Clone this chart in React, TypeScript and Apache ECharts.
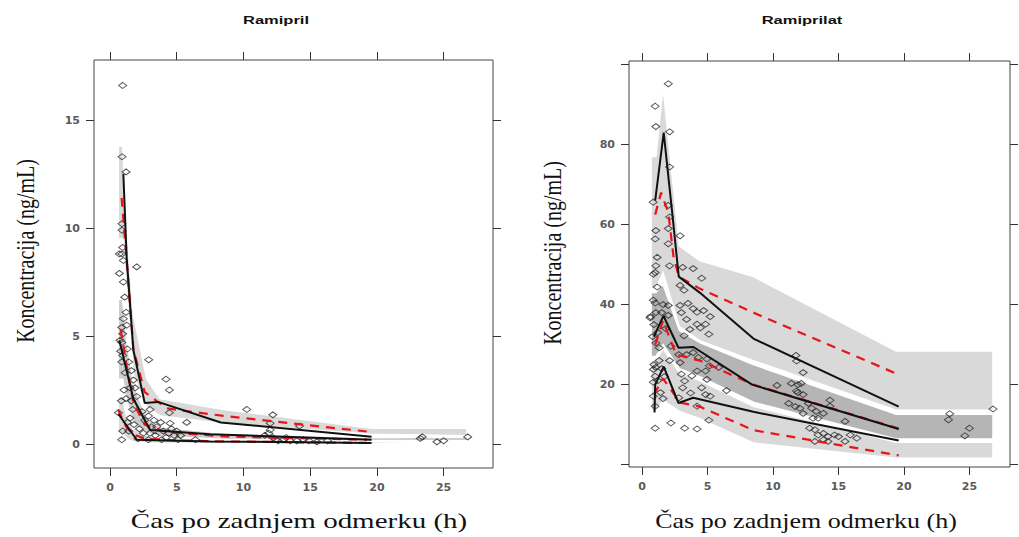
import React, { useEffect, useRef } from "react";
import * as echarts from "echarts";

// ---------- tick values ----------
const xTicks = [0, 5, 10, 15, 20, 25];
const ramiprilYTicks = [0, 5, 10, 15];
const ramiprilatYTicks = [0, 20, 40, 60, 80, 100];
const ramiprilatYLabels = [20, 40, 60, 80];

// ---------- Ramipril (left) ----------
const ramiprilObs: number[][] = [
  [0.95, 16.6], [0.9, 13.3], [1.2, 12.6], [0.9, 10.2], [0.9, 9.9], [0.7, 8.8], [0.9, 8.8], [0.95, 9.1],
  [1.0, 8.5], [2.0, 8.2], [0.7, 7.9], [1.0, 7.5], [1.2, 6.1], [0.88, 5.4], [0.95, 5.1], [0.75, 4.8],
  [0.88, 4.7], [0.95, 4.1], [0.88, 3.8], [1.13, 3.3], [2.9, 3.9], [4.2, 3.0], [4.45, 2.5], [1.75, 2.96],
  [1.88, 2.6], [2.0, 2.2], [1.2, 2.1], [0.63, 1.45], [3.0, 1.6], [2.88, 1.3], [4.45, 1.45], [5.75, 1.0],
  [10.25, 1.6], [12.2, 1.35], [12.0, 0.96], [14.2, 0.83], [0.95, 0.6], [0.88, 0.2], [2.1, 0.25], [2.88, 0.2],
  [3.0, 0.5], [3.1, 0.8], [3.87, 0.2], [4.4, 0.5], [4.5, 0.96], [5.0, 0.6], [5.1, 0.2], [6.4, 0.2],
  [11.6, 0.4], [12.0, 0.65], [12.6, 0.15], [13.0, 0.2], [13.5, 0.15], [14.0, 0.15], [14.5, 0.2], [14.9, 0.15],
  [15.5, 0.1], [16.3, 0.15], [23.25, 0.26], [23.4, 0.33], [24.5, 0.1], [25.0, 0.15], [26.8, 0.33],
  [1.5, 2.6], [1.6, 2.0], [1.7, 1.6], [1.5, 1.2], [1.8, 0.9], [2.2, 0.7], [2.5, 0.5], [2.6, 1.1],
  [3.3, 1.1], [3.5, 0.8], [3.4, 0.4], [3.8, 1.0], [4.0, 0.6], [4.2, 0.3], [4.6, 0.7], [4.8, 0.4],
  [5.3, 0.4], [1.3, 4.4], [1.4, 3.8], [1.6, 3.4], [1.25, 5.5], [1.1, 6.8], [1.0, 5.8], [0.8, 4.3],
  [0.85, 2.0], [1.05, 2.5], [1.3, 1.0], [1.4, 0.6], [2.4, 1.5], [12.2, 0.3], [11.9, 0.5], [12.4, 0.2], [13.2, 0.3],
];
const ramiprilObsP95: number[][] = [[1.0, 12.5], [1.25, 8.6], [1.75, 4.35], [2.6, 1.9], [3.6, 1.95], [8.3, 1.0], [19.6, 0.34]];
const ramiprilObsP50: number[][] = [[0.7, 4.8], [1.75, 2.1], [3.0, 0.65], [7.5, 0.45], [19.6, 0.2]];
const ramiprilObsP05: number[][] = [[0.62, 1.4], [2.0, 0.2], [7.5, 0.12], [19.6, 0.05]];
const ramiprilPredP95: number[][] = [[0.87, 11.4], [1.25, 8.5], [1.75, 4.4], [2.6, 2.4], [4.25, 1.65], [8.5, 1.3], [19.25, 0.58]];
const ramiprilPredP50: number[][] = [[0.8, 5.3], [1.25, 3.6], [1.75, 1.9], [2.6, 0.9], [4.25, 0.55], [8.5, 0.35], [19.25, 0.2]];
const ramiprilPredP05: number[][] = [[0.6, 1.6], [1.25, 0.75], [1.75, 0.45], [2.6, 0.25], [4.25, 0.18], [8.5, 0.12], [19.25, 0.05]];
const ramiprilBandX = [0.62, 0.95, 1.25, 1.75, 2.75, 3.75, 8.5, 19.6, 26.75];
const ramiprilHiCIlo = [9.5, 9.5, 7.0, 3.2, 1.7, 1.3, 0.95, 0.45, 0.38];
const ramiprilHiCIhi = [13.8, 13.8, 10.0, 6.0, 3.0, 2.1, 1.6, 0.73, 0.73];
const ramiprilMedCIlo = [3.0, 3.0, 2.0, 1.0, 0.5, 0.35, 0.22, 0.15, 0.15];
const ramiprilMedCIhi = [6.7, 6.7, 4.8, 2.8, 1.2, 0.8, 0.5, 0.3, 0.32];
const ramiprilLoCIlo = [0.5, 0.5, 0.25, 0.1, 0.05, 0.04, 0.03, 0.02, 0.08];
const ramiprilLoCIhi = [2.2, 2.2, 1.2, 0.7, 0.4, 0.28, 0.18, 0.12, 0.13];

// ---------- Ramiprilat (right) ----------
const ramiprilatObs: number[][] = [
  [2.0, 95.2], [1.0, 89.6], [1.05, 84.5], [2.1, 83.2], [2.1, 74.4], [0.85, 65.6], [2.0, 64.8], [2.1, 61.9],
  [2.0, 59], [2.9, 57.2], [1.05, 58.5], [1.0, 56.4], [2.0, 55.2], [1.15, 51.8], [1.05, 49.7], [2.1, 49.7],
  [0.86, 47.6], [1.0, 48], [3.1, 49.3], [3.9, 49], [4.55, 46.6], [1.15, 44.4], [2.9, 44.8], [3.2, 43.6],
  [0.86, 41.1], [1.0, 40.4], [2.0, 39.8], [2.9, 39.8], [3.5, 40.3], [3.9, 39], [4.2, 38.1], [4.7, 38.5],
  [5.2, 37], [0.62, 36.7], [1.05, 38], [2.0, 37.3], [3.0, 38], [3.4, 36.3], [4.2, 35.1], [4.45, 34.2],
  [4.85, 35.1], [5.1, 32.6], [3.65, 33.8], [3.2, 32.2], [1.05, 30.4], [1.3, 29.2], [2.2, 29.6], [2.8, 27.5],
  [3.4, 27.5], [3.9, 28], [4.3, 26.8], [4.95, 26.4], [5.15, 24.7], [5.85, 24.3], [0.86, 23.8], [1.0, 22.1],
  [1.05, 24.3], [2.1, 26], [2.9, 25.5], [3.0, 22.6], [3.25, 20.9], [3.8, 22.2], [4.2, 23.4], [4.85, 23.4],
  [4.95, 21.3], [4.55, 19.2], [4.85, 17.5], [5.2, 17.1], [6.45, 18.5], [0.86, 20.6], [0.86, 17.1], [1.0, 14.6],
  [2.8, 16.7], [3.1, 19.2], [3.7, 17.9], [4.2, 14.6], [1.0, 9.1], [2.2, 10.4], [3.25, 9.1], [4.2, 8.9],
  [5.1, 11.1], [10.3, 19.8], [11.75, 27.3], [11.8, 25.9], [12.3, 23], [11.4, 20.3], [11.9, 20], [12.15, 20.3],
  [11.8, 18.4], [11.9, 18], [12.3, 17.5], [11.2, 15.3], [11.7, 14.5], [12.05, 14.1], [12.7, 15.3], [12.95, 14.1],
  [12.3, 12.8], [13.3, 13.3], [13.85, 12.8], [13.05, 11.6], [13.45, 11.6], [14.35, 16.1], [14.35, 14.6], [15.5, 10.8],
  [12.8, 9.1], [13.2, 8.7], [13.45, 7.4], [13.85, 7.8], [14.2, 7], [14.7, 7.4], [15, 7], [14.2, 5.8],
  [15.5, 5.8], [15.9, 7.4], [16.4, 6.6], [13.2, 5.8], [13.85, 6.2], [23.4, 11.2], [23.5, 12.7], [24.65, 7.2],
  [25.0, 9.1], [26.8, 13.9],
  [0.65, 37], [0.9, 35], [1.2, 33], [1.5, 38], [1.6, 40], [1.8, 34], [1.3, 26], [1.5, 24], [1.7, 22],
  [0.9, 25], [1.2, 21], [1.4, 18], [1.6, 16.5], [0.8, 32],
];
const ramiprilatObsP95: number[][] = [[1.0, 66], [1.65, 83], [2.3, 63], [2.8, 47], [4.4, 43], [8.5, 31.5], [19.6, 14.5]];
const ramiprilatObsP50: number[][] = [[0.9, 32], [1.63, 37.2], [2.78, 29.2], [3.92, 29.4], [8.4, 20], [19.6, 8.9]];
const ramiprilatObsP05: number[][] = [[0.95, 13], [1.0, 20], [1.65, 24.5], [2.78, 15.4], [3.9, 16.7], [8.5, 13.2], [19.6, 6.0]];
const ramiprilatPredP95: number[][] = [[1.0, 62.5], [1.45, 68], [2.0, 63], [2.4, 52], [2.8, 47], [4.4, 44], [8.5, 38], [19.6, 22.5]];
const ramiprilatPredP50: number[][] = [[1.0, 30], [1.6, 36], [2.6, 27.5], [4.4, 26], [8.5, 20], [19.6, 9]];
const ramiprilatPredP05: number[][] = [[0.9, 17.5], [1.6, 21.5], [2.9, 15.5], [4.4, 14.5], [8.5, 8.6], [19.6, 2.3]];
const ramiprilatBandX = [0.69, 1.05, 1.6, 2.85, 4.4, 8.5, 19.4, 26.8];
const ramiprilatHiCIlo = [44, 44, 48, 34.5, 31, 26, 13.6, 13.6];
const ramiprilatHiCIhi = [77, 77, 94.5, 54.7, 51, 47, 28.4, 28.4];
const ramiprilatMedCIlo = [27, 27, 30, 24, 22, 15.6, 6.4, 6.4];
const ramiprilatMedCIhi = [43, 43, 45, 33.5, 30.5, 25, 12.6, 12.6];
const ramiprilatLoCIlo = [13.5, 13.5, 16, 13.3, 11.5, 5.4, 1.6, 1.6];
const ramiprilatLoCIhi = [26, 26, 29, 23, 21, 14.6, 5.6, 5.6];

function band(axis: number, xs: number[], lo: number[], hi: number[], fill: string) {
  const data = xs.map((x, i) => [x, lo[i], hi[i]]);
  return {
    type: "custom",
    xAxisIndex: axis,
    yAxisIndex: axis,
    clip: true,
    silent: true,
    z: 1,
    data,
    encode: { x: 0, y: [1, 2] },
    renderItem: (params: any, api: any) => {
      if (params.dataIndex !== 0) return { type: "group", children: [] };
      const top = data.map((d) => api.coord([d[0], d[2]]));
      const bot = data.slice().reverse().map((d) => api.coord([d[0], d[1]]));
      return {
        type: "polygon",
        shape: { points: top.concat(bot) },
        style: { fill, stroke: "#ffffff", lineWidth: 1.5 },
      };
    },
  };
}

function line(axis: number, data: number[][], red: boolean) {
  return {
    type: "line",
    xAxisIndex: axis,
    yAxisIndex: axis,
    data,
    symbol: "none",
    silent: true,
    z: red ? 4 : 5,
    lineStyle: red
      ? { color: "#e8141b", width: 2.2, type: [9, 7] }
      : { color: "#111111", width: 2 },
  };
}

function points(axis: number, data: number[][]) {
  return {
    type: "scatter",
    xAxisIndex: axis,
    yAxisIndex: axis,
    data,
    symbol: "diamond",
    symbolSize: [8, 6],
    silent: true,
    z: 3,
    itemStyle: { color: "rgba(0,0,0,0)", borderColor: "#2a2a2a", borderWidth: 1 },
  };
}

const tickLabelStyle = {
  fontFamily: "DejaVu Sans",
  fontWeight: "bold" as const,
  fontSize: 11,
  color: "#5a5a5a",
};

const hiddenLine = { show: false, onZero: false };

function xAxes(grid: number, min: number, max: number) {
  return [
    {
      type: "value", gridIndex: grid, position: "bottom", min, max,
      axisLine: hiddenLine, splitLine: { show: false },
      axisTick: { show: true, length: 8, customValues: xTicks, lineStyle: { color: "#333" } },
      axisLabel: { show: true, margin: 14, customValues: xTicks, ...tickLabelStyle },
    },
    {
      type: "value", gridIndex: grid, position: "top", min, max,
      axisLine: hiddenLine, splitLine: { show: false },
      axisTick: { show: true, length: 8, customValues: xTicks, lineStyle: { color: "#333" } },
      axisLabel: { show: false },
    },
  ];
}

function yAxes(grid: number, min: number, max: number, ticks: number[], labels: number[]) {
  return [
    {
      type: "value", gridIndex: grid, position: "left", min, max,
      axisLine: hiddenLine, splitLine: { show: false },
      axisTick: { show: true, length: 8, customValues: ticks, lineStyle: { color: "#333" } },
      axisLabel: { show: true, margin: 14, customValues: labels, ...tickLabelStyle },
    },
    {
      type: "value", gridIndex: grid, position: "right", min, max,
      axisLine: hiddenLine, splitLine: { show: false },
      axisTick: { show: true, length: 8, customValues: ticks, lineStyle: { color: "#333" } },
      axisLabel: { show: false },
    },
  ];
}

function txt(x: number, y: number, text: string, font: any, extra: any = {}) {
  return {
    type: "text",
    x,
    y,
    silent: true,
    ...extra,
    style: { text, fill: "#111", align: "center", verticalAlign: "middle", ...font },
  };
}

export default function App() {
  const ref = useRef<HTMLDivElement>(null);
  useEffect(() => {
    if (!ref.current) return;
    const chart = echarts.init(ref.current, undefined, { renderer: "svg" });
    const serif = { fontFamily: "Liberation Serif", fontSize: 20 };
    const titleFont = { fontFamily: "Liberation Sans", fontSize: 11, fontWeight: "bold" };
    chart.setOption({
      animation: false,
      backgroundColor: "#ffffff",
      grid: [
        { left: 94, top: 60, width: 399, height: 408, show: true, borderColor: "#444", borderWidth: 1, backgroundColor: "transparent" },
        { left: 629, top: 61, width: 381, height: 406, show: true, borderColor: "#444", borderWidth: 1, backgroundColor: "transparent" },
      ],
      xAxis: [...xAxes(0, -1.2, 28.7), ...xAxes(1, -1.0, 28.1)],
      yAxis: [
        ...yAxes(0, -1.11, 17.78, ramiprilYTicks, ramiprilYTicks),
        ...yAxes(1, -0.6, 100.9, ramiprilatYTicks, ramiprilatYLabels),
      ],
      series: [
        band(0, ramiprilBandX, ramiprilHiCIlo, ramiprilHiCIhi, "#d9d9d9"),
        band(0, ramiprilBandX, ramiprilMedCIlo, ramiprilMedCIhi, "#cdcdcd"),
        band(0, ramiprilBandX, ramiprilLoCIlo, ramiprilLoCIhi, "#d9d9d9"),
        points(0, ramiprilObs),
        line(0, ramiprilPredP95, true),
        line(0, ramiprilPredP50, true),
        line(0, ramiprilPredP05, true),
        line(0, ramiprilObsP95, false),
        line(0, ramiprilObsP50, false),
        line(0, ramiprilObsP05, false),
        band(2, ramiprilatBandX, ramiprilatHiCIlo, ramiprilatHiCIhi, "#d9d9d9"),
        band(2, ramiprilatBandX, ramiprilatMedCIlo, ramiprilatMedCIhi, "#b5b5b5"),
        band(2, ramiprilatBandX, ramiprilatLoCIlo, ramiprilatLoCIhi, "#d9d9d9"),
        points(2, ramiprilatObs),
        line(2, ramiprilatPredP95, true),
        line(2, ramiprilatPredP50, true),
        line(2, ramiprilatPredP05, true),
        line(2, ramiprilatObsP95, false),
        line(2, ramiprilatObsP50, false),
        line(2, ramiprilatObsP05, false),
      ],
      graphic: [
        txt(276, 20, "Ramipril", titleFont, { scaleX: 1.5 }),
        txt(802, 20, "Ramiprilat", titleFont, { scaleX: 1.5 }),
        txt(25, 251, "Koncentracija (ng/mL)", { ...serif, fontSize: 20 }, { rotation: Math.PI / 2, scaleY: 1.3 }),
        txt(552, 253, "Koncentracija (ng/mL)", { ...serif, fontSize: 20 }, { rotation: Math.PI / 2, scaleY: 1.3 }),
        txt(299, 521, "Čas po zadnjem odmerku (h)", serif, { scaleX: 1.45 }),
        txt(806, 521, "Čas po zadnjem odmerku (h)", serif, { scaleX: 1.3 }),
      ],
    });
    return () => chart.dispose();
  }, []);
  return (
    <div
      ref={ref}
      style={{ position: "absolute", left: 0, top: 0, width: 1019, height: 537 }}
    />
  );
}
